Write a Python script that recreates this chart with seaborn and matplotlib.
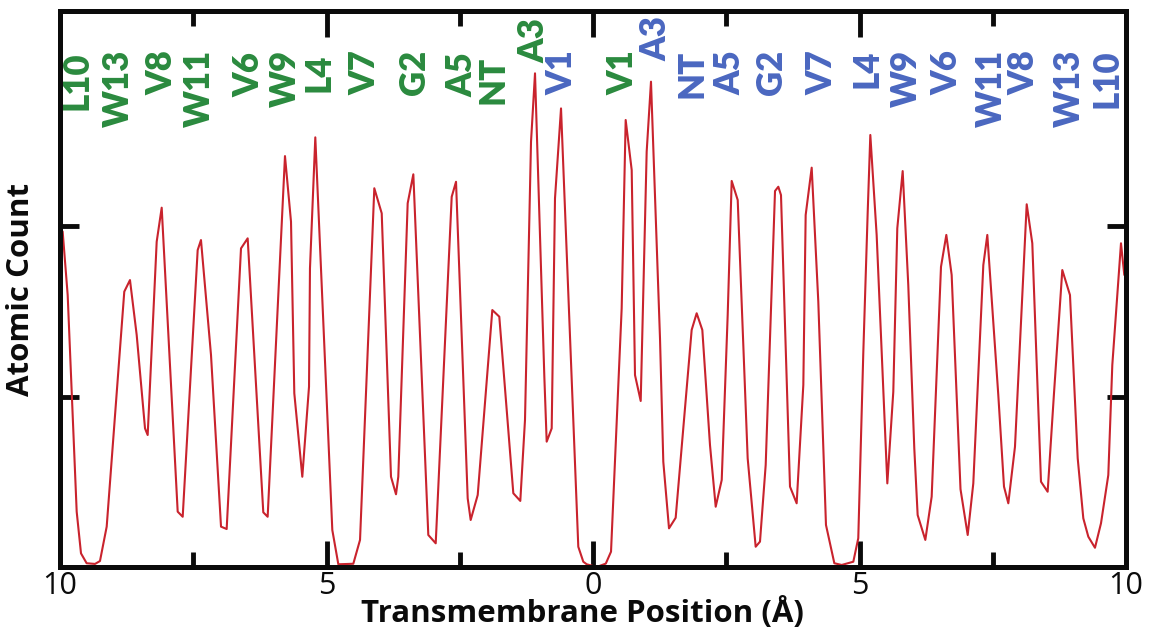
import matplotlib
matplotlib.use("Agg")
import matplotlib.pyplot as plt
from matplotlib.ticker import MultipleLocator
import numpy as np
import pandas as pd
import seaborn as sns

# Atomic density profile across the membrane (position in Å, count in arbitrary units)
position = [
    -9.950, -9.856, -9.687, -9.606, -9.500, -9.343, -9.250, -9.124, -8.794, -8.687,
    -8.561, -8.405, -8.355, -8.186, -8.092, -7.792, -7.698, -7.417, -7.355, -7.167,
    -6.979, -6.873, -6.604, -6.479, -6.186, -6.104, -5.779, -5.666, -5.604, -5.454,
    -5.328, -5.310, -5.210, -4.891, -4.778, -4.497, -4.371, -4.103, -3.964, -3.790,
    -3.696, -3.653, -3.477, -3.371, -3.090, -2.951, -2.651, -2.570, -2.351, -2.295,
    -2.163, -1.889, -1.758, -1.495, -1.364, -1.276, -1.163, -1.088, -0.913, -0.869,
    -0.775, -0.713, -0.600, -0.306, -0.276, -0.182, -0.118, 0.069, 0.240, 0.338,
    0.538, 0.613, 0.726, 0.788, 0.895, 1.007, 1.088, 1.257, 1.319, 1.426,
    1.551, 1.851, 1.945, 2.051, 2.195, 2.302, 2.415, 2.527, 2.602, 2.715,
    2.902, 3.052, 3.133, 3.240, 3.415, 3.477, 3.527, 3.696, 3.821, 3.946,
    3.990, 4.103, 4.227, 4.371, 4.528, 4.666, 4.884, 4.977, 5.071, 5.154,
    5.203, 5.322, 5.522, 5.634, 5.709, 5.810, 5.915, 6.028, 6.091, 6.235,
    6.354, 6.529, 6.629, 6.729, 6.895, 7.030, 7.135, 7.323, 7.398, 7.604,
    7.711, 7.792, 7.917, 8.137, 8.242, 8.405, 8.530, 8.649, 8.805, 8.949,
    9.094, 9.199, 9.293, 9.418, 9.531, 9.668, 9.743, 9.906, 9.968,
]
atomic_count = [
    197.0, 159.7, 32.5, 8.0, 2.2, 1.8, 3.5, 23.7, 161.7, 168.5,
    136.2, 81.4, 77.5, 191.0, 211.0, 32.5, 29.5, 186.1, 192.0, 124.5,
    23.7, 22.3, 187.1, 193.0, 32.1, 29.5, 241.3, 202.8, 102.0, 53.0,
    105.9, 175.4, 252.3, 21.7, 1.6, 1.9, 15.9, 222.4, 207.7, 53.0,
    42.7, 53.0, 213.6, 230.6, 18.8, 13.9, 217.4, 226.2, 40.3, 27.6,
    42.3, 150.9, 147.0, 43.3, 38.8, 86.3, 249.7, 289.9, 111.7, 73.6,
    81.4, 216.5, 269.3, 34.5, 11.9, 3.1, 1.6, 0.0, 2.0, 9.0,
    151.9, 262.5, 233.1, 112.7, 97.5, 243.9, 285.0, 134.3, 61.8, 22.7,
    28.9, 139.2, 149.0, 139.2, 71.6, 35.4, 51.1, 148.0, 226.7, 215.5,
    63.8, 11.9, 14.9, 59.9, 220.8, 223.3, 218.4, 47.2, 37.4, 106.9,
    206.7, 234.5, 155.8, 24.7, 2.2, 1.2, 3.1, 16.9, 125.5, 208.6,
    253.7, 194.9, 49.1, 102.9, 198.9, 232.5, 165.6, 69.7, 30.5, 15.9,
    41.3, 176.3, 195.0, 171.5, 45.7, 18.8, 49.1, 177.3, 195.0, 101.0,
    47.2, 37.4, 70.6, 213.0, 190.1, 50.1, 44.2, 102.0, 174.4, 159.7,
    63.8, 28.6, 17.8, 11.3, 25.7, 54.0, 118.6, 190.1, 171.5,
]

# Residue labels for the two monomers
green_names = ["L10", "W13", "V8", "W11", "V6", "W9", "L4", "V7", "G2", "A5", "NT", "A3", "V1"]
green_pos = [-9.681, -8.912, -8.086, -7.392, -6.454, -5.779, -5.141, -4.278, -3.340, -2.458, -1.876, -1.107, 0.563]
green_top = [302.5, 303.8, 303.8, 303.8, 302.5, 303.8, 301.3, 303.8, 303.8, 302.5, 300.0, 322.4, 303.8]

blue_names = ["V1", "A3", "NT", "A5", "G2", "V7", "L4", "W9", "V6", "W11", "V8", "W13", "L10"]
blue_pos = [-0.582, 1.182, 1.857, 2.570, 3.340, 4.296, 5.141, 5.872, 6.642, 7.467, 8.086, 8.931, 9.644]
blue_top = [303.8, 323.6, 303.8, 303.8, 303.8, 303.8, 303.8, 303.8, 303.8, 303.8, 303.8, 303.8, 303.8]

xticks = [-10, -5, 0, 5, 10]
xtick_labels = ["10", "5", "0", "5", "10"]
yticks = [100, 200]

LINE_RED = "#c9232d"
GREEN = "#2a8a3e"
BLUE = "#4a67c0"
INK = "#0b0b0b"

sns.set_style("ticks")
plt.rcParams["font.family"] = ["Open Sans", "DejaVu Sans"]

fig = plt.figure(figsize=(11.52, 6.27), dpi=100)
ax = fig.add_axes([60 / 1152, 60 / 627, 1066 / 1152, 556 / 627])

df = pd.DataFrame({"pos": position, "count": atomic_count})
sns.lineplot(data=df, x="pos", y="count", ax=ax, color=LINE_RED, linewidth=1.5,
             sort=False, estimator=None)

ax.set_xlim(-10, 10)
ax.set_ylim(0, 326.5)
ax.set_xticks(xticks)
ax.set_xticklabels(xtick_labels)
ax.xaxis.set_minor_locator(MultipleLocator(2.5))
ax.set_yticks(yticks)
ax.set_yticklabels([])

ax.tick_params(axis="x", which="major", direction="in", length=19, width=3.5,
               top=True, bottom=True, labelsize=22, pad=3, colors=INK)
ax.tick_params(axis="x", which="minor", direction="in", length=11, width=3.5,
               top=True, bottom=True, colors=INK)
ax.tick_params(axis="y", which="major", direction="in", length=14, width=3.5,
               left=True, right=True, colors=INK)
for spine in ax.spines.values():
    spine.set_linewidth(3.6)
    spine.set_color(INK)

ax.set_xlabel("Transmembrane Position (Å)", fontsize=22.5, fontweight="bold", color=INK)
ax.xaxis.label.set_va("baseline")
ax.xaxis.set_label_coords(0.4905, -(622 - 567) / 556)
ax.set_ylabel("Atomic Count", fontsize=22.5, fontweight="bold", color=INK)
ax.yaxis.label.set_va("center")
ax.yaxis.set_label_coords(-(60 - 21) / 1066, 0.5)

for names, xs, tops, col in [(green_names, green_pos, green_top, GREEN),
                             (blue_names, blue_pos, blue_top, BLUE)]:
    for name, x, top in zip(names, xs, tops):
        ax.text(x, top, name, rotation=90, ha="center", va="top", color=col,
                fontsize=25, fontweight="heavy", family=["Lato", "DejaVu Sans"])

fig.savefig("out.png", dpi=100)
